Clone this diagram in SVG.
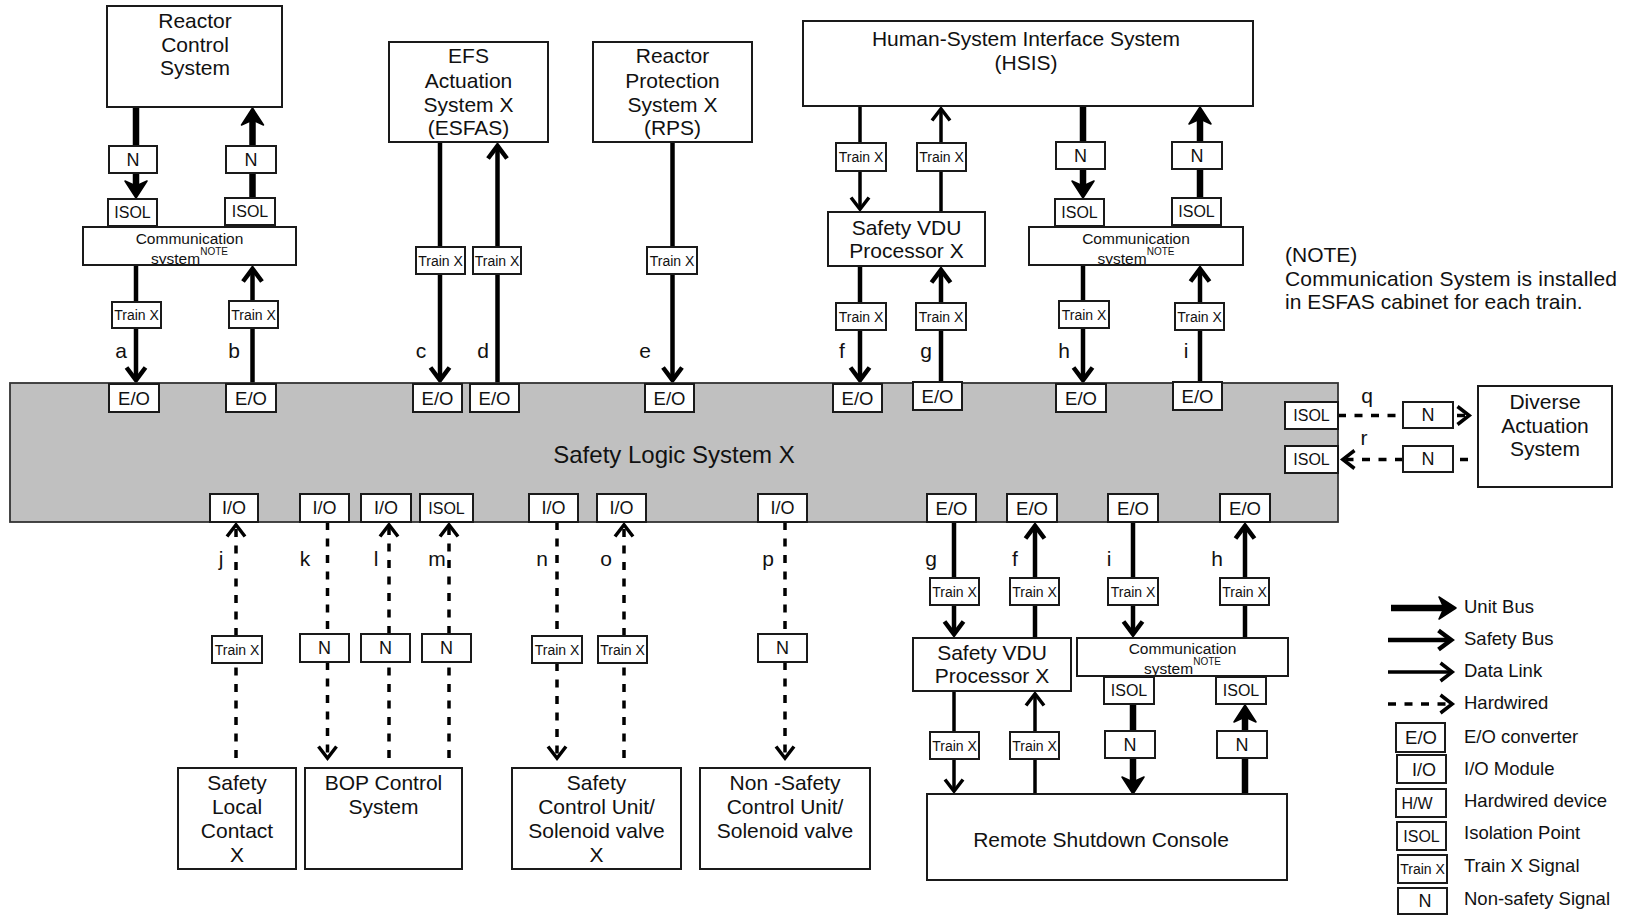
<svg xmlns="http://www.w3.org/2000/svg" width="1629" height="917" viewBox="0 0 1629 917">
  <style>
    .box { fill: #fff; stroke: #1a1a1a; stroke-width: 2; }
    .sls { fill: #c0c0c0; stroke: #333; stroke-width: 1.8; }
    .t { font-family: "Liberation Sans", Arial, Helvetica, sans-serif; fill: #111; text-anchor: middle; }
    .big { font-size: 21px; }
    .title { font-size: 24px; }
    .eo { font-size: 18.5px; }
    .n { font-size: 18px; }
    .isol { font-size: 16px; }
    .tx { font-size: 14px; }
    .comm { font-size: 15.5px; }
    .sup { font-size: 10px; }
    .note { font-size: 21px; text-anchor: start; }
    .leg { font-size: 18.5px; text-anchor: start; }
    .unit, .safe, .data, .hw { fill: none; stroke: #000; }
    .unit { stroke-width: 6.5; }
    .safe { stroke-width: 4.5; }
    .data { stroke-width: 3.5; }
    .hw { stroke-width: 3.5; stroke-dasharray: 8 8.5; }
  </style>
  <defs>
    <!-- filled head for unit bus -->
    <marker id="m-unit" markerUnits="userSpaceOnUse" viewBox="-26 -15 30 30" markerWidth="30" markerHeight="30" refX="-8" refY="0" orient="auto" overflow="visible">
      <path d="M-1 0 L-18 -11 L-13 0 L-18 11 Z" fill="#000" stroke="#000" stroke-width="1.5" stroke-linejoin="round"/>
    </marker>
    <!-- open chevron for safety bus -->
    <marker id="m-safe" markerUnits="userSpaceOnUse" viewBox="-24 -14 28 28" markerWidth="28" markerHeight="28" refX="-4" refY="0" orient="auto" overflow="visible">
      <path d="M-16.5 -9.5 L-3.8 0 L-16.5 9.5" fill="none" stroke="#000" stroke-width="4.5"/>
    </marker>
    <!-- open chevron for data link / hardwired -->
    <marker id="m-data" markerUnits="userSpaceOnUse" viewBox="-22 -13 26 26" markerWidth="26" markerHeight="26" refX="-3" refY="0" orient="auto" overflow="visible">
      <path d="M-14.5 -9 L-2.8 0 L-14.5 9" fill="none" stroke="#000" stroke-width="3.5"/>
    </marker>
    <clipPath id="clip-comm-l" clipPathUnits="userSpaceOnUse"><rect x="84" y="228" width="211" height="36"/></clipPath>
    <clipPath id="clip-comm-r" clipPathUnits="userSpaceOnUse"><rect x="1030" y="228" width="212" height="36"/></clipPath>
    <clipPath id="clip-comm-b" clipPathUnits="userSpaceOnUse"><rect x="1078" y="639" width="209" height="36"/></clipPath>
  </defs>

  <rect width="1629" height="917" fill="#fff"/>

  <!-- ===== connectors ===== -->
  <g id="connectors">
    <!-- a -->
    <line class="unit" x1="136" y1="107" x2="136" y2="146"/>
    <line class="unit" x1="136" y1="173" x2="136" y2="191" marker-end="url(#m-unit)"/>
    <line class="safe" x1="136" y1="265" x2="136" y2="302"/>
    <line class="safe" x1="136" y1="328" x2="136" y2="380" marker-end="url(#m-safe)"/>
    <!-- b -->
    <line class="safe" x1="252.5" y1="384" x2="252.5" y2="328"/>
    <line class="safe" x1="252.5" y1="301" x2="252.5" y2="269" marker-end="url(#m-safe)"/>
    <line class="unit" x1="252.5" y1="198" x2="252.5" y2="173"/>
    <line class="unit" x1="252.5" y1="146" x2="252.5" y2="115" marker-end="url(#m-unit)"/>
    <!-- c -->
    <line class="safe" x1="440" y1="142" x2="440" y2="247"/>
    <line class="safe" x1="440" y1="274" x2="440" y2="380" marker-end="url(#m-safe)"/>
    <!-- d -->
    <line class="safe" x1="497.5" y1="384" x2="497.5" y2="274"/>
    <line class="safe" x1="497.5" y1="247" x2="497.5" y2="146" marker-end="url(#m-safe)"/>
    <!-- e -->
    <line class="safe" x1="672.5" y1="142" x2="672.5" y2="247"/>
    <line class="safe" x1="672.5" y1="274" x2="672.5" y2="380" marker-end="url(#m-safe)"/>
    <!-- f (upper) -->
    <line class="data" x1="860" y1="106" x2="860" y2="143"/>
    <line class="data" x1="860" y1="171" x2="860" y2="209" marker-end="url(#m-data)"/>
    <line class="safe" x1="860" y1="266" x2="860" y2="303"/>
    <line class="safe" x1="860" y1="330" x2="860" y2="380" marker-end="url(#m-safe)"/>
    <!-- g (upper) -->
    <line class="safe" x1="941" y1="382" x2="941" y2="330"/>
    <line class="safe" x1="941" y1="303" x2="941" y2="270" marker-end="url(#m-safe)"/>
    <line class="data" x1="941" y1="212" x2="941" y2="171"/>
    <line class="data" x1="941" y1="143" x2="941" y2="109" marker-end="url(#m-data)"/>
    <!-- h (upper) -->
    <line class="unit" x1="1083" y1="106" x2="1083" y2="142"/>
    <line class="unit" x1="1083" y1="169" x2="1083" y2="191" marker-end="url(#m-unit)"/>
    <line class="safe" x1="1083" y1="265" x2="1083" y2="301"/>
    <line class="safe" x1="1083" y1="328" x2="1083" y2="380" marker-end="url(#m-safe)"/>
    <!-- i (upper) -->
    <line class="safe" x1="1200" y1="382" x2="1200" y2="330"/>
    <line class="safe" x1="1200" y1="303" x2="1200" y2="269" marker-end="url(#m-safe)"/>
    <line class="unit" x1="1200" y1="198" x2="1200" y2="169"/>
    <line class="unit" x1="1200" y1="142" x2="1200" y2="114" marker-end="url(#m-unit)"/>
    <!-- q / r -->
    <line class="hw" x1="1338" y1="415.5" x2="1403" y2="415.5"/>
    <line class="hw" x1="1457" y1="415.5" x2="1469" y2="415.5" marker-end="url(#m-data)"/>
    <line class="hw" x1="1468" y1="459.5" x2="1453" y2="459.5"/>
    <line class="hw" x1="1403" y1="459.5" x2="1343" y2="459.5" marker-end="url(#m-data)"/>
    <!-- j..p hardwired -->
    <line class="hw" x1="236" y1="758" x2="236" y2="663"/>
    <line class="hw" x1="236" y1="636" x2="236" y2="525" marker-end="url(#m-data)"/>
    <line class="hw" x1="327.5" y1="522" x2="327.5" y2="634"/>
    <line class="hw" x1="327.5" y1="662" x2="327.5" y2="758" marker-end="url(#m-data)"/>
    <line class="hw" x1="389" y1="758" x2="389" y2="662"/>
    <line class="hw" x1="389" y1="634" x2="389" y2="525" marker-end="url(#m-data)"/>
    <line class="hw" x1="449" y1="758" x2="449" y2="662"/>
    <line class="hw" x1="449" y1="634" x2="449" y2="525" marker-end="url(#m-data)"/>
    <line class="hw" x1="557" y1="522" x2="557" y2="636"/>
    <line class="hw" x1="557" y1="663" x2="557" y2="758" marker-end="url(#m-data)"/>
    <line class="hw" x1="624" y1="758" x2="624" y2="663"/>
    <line class="hw" x1="624" y1="636" x2="624" y2="525" marker-end="url(#m-data)"/>
    <line class="hw" x1="785" y1="522" x2="785" y2="634"/>
    <line class="hw" x1="785" y1="662" x2="785" y2="758" marker-end="url(#m-data)"/>
    <!-- g (lower) -->
    <line class="safe" x1="954" y1="522" x2="954" y2="578"/>
    <line class="safe" x1="954" y1="605" x2="954" y2="634" marker-end="url(#m-safe)"/>
    <line class="data" x1="954" y1="691" x2="954" y2="732"/>
    <line class="data" x1="954" y1="759" x2="954" y2="791" marker-end="url(#m-data)"/>
    <!-- f (lower) -->
    <line class="data" x1="1035" y1="794" x2="1035" y2="759"/>
    <line class="data" x1="1035" y1="732" x2="1035" y2="694" marker-end="url(#m-data)"/>
    <line class="safe" x1="1035" y1="638" x2="1035" y2="605"/>
    <line class="safe" x1="1035" y1="578" x2="1035" y2="526" marker-end="url(#m-safe)"/>
    <!-- i (lower) -->
    <line class="safe" x1="1133" y1="522" x2="1133" y2="578"/>
    <line class="safe" x1="1133" y1="605" x2="1133" y2="634" marker-end="url(#m-safe)"/>
    <line class="unit" x1="1133" y1="704" x2="1133" y2="731"/>
    <line class="unit" x1="1133" y1="758" x2="1133" y2="787" marker-end="url(#m-unit)"/>
    <!-- h (lower) -->
    <line class="unit" x1="1245" y1="794" x2="1245" y2="758"/>
    <line class="unit" x1="1245" y1="731" x2="1245" y2="712" marker-end="url(#m-unit)"/>
    <line class="safe" x1="1245" y1="638" x2="1245" y2="605"/>
    <line class="safe" x1="1245" y1="578" x2="1245" y2="526" marker-end="url(#m-safe)"/>
  </g>

  <!-- signal letters -->
  <g id="signal-labels" class="t big">
    <text x="121" y="358">a</text>
    <text x="234" y="358">b</text>
    <text x="421" y="358">c</text>
    <text x="483" y="358">d</text>
    <text x="645" y="358">e</text>
    <text x="842" y="358">f</text>
    <text x="926" y="358">g</text>
    <text x="1064" y="358">h</text>
    <text x="1186" y="358">i</text>
    <text x="1367" y="403">q</text>
    <text x="1364" y="445">r</text>
    <text x="221" y="566">j</text>
    <text x="305" y="566">k</text>
    <text x="376" y="566">l</text>
    <text x="437" y="566">m</text>
    <text x="542" y="566">n</text>
    <text x="606" y="566">o</text>
    <text x="768" y="566">p</text>
    <text x="931" y="566">g</text>
    <text x="1015" y="566">f</text>
    <text x="1109" y="566">i</text>
    <text x="1217" y="566">h</text>
  </g>

  <!-- ===== main systems ===== -->
  <g id="reactor-control">
    <rect class="box" x="107" y="6" width="175" height="101"/>
    <text class="t big" x="195" y="28">Reactor</text>
    <text class="t big" x="195" y="51.5">Control</text>
    <text class="t big" x="195" y="74.5">System</text>
  </g>
  <g id="esfas">
    <rect class="box" x="389" y="42" width="159" height="100"/>
    <text class="t big" x="468.5" y="63">EFS</text>
    <text class="t big" x="468.5" y="87.5">Actuation</text>
    <text class="t big" x="468.5" y="111.5">System X</text>
    <text class="t big" x="468.5" y="135">(ESFAS)</text>
  </g>
  <g id="rps">
    <rect class="box" x="593" y="42" width="159" height="100"/>
    <text class="t big" x="672.5" y="63">Reactor</text>
    <text class="t big" x="672.5" y="87.5">Protection</text>
    <text class="t big" x="672.5" y="111.5">System X</text>
    <text class="t big" x="672.5" y="135">(RPS)</text>
  </g>
  <g id="hsis">
    <rect class="box" x="803" y="21" width="450" height="85"/>
    <text class="t big" x="1026" y="46">Human-System Interface System</text>
    <text class="t big" x="1026" y="69.5">(HSIS)</text>
  </g>
  <g id="vdu-upper">
    <rect class="box" x="828" y="212" width="157" height="54"/>
    <text class="t big" x="906.5" y="235">Safety VDU</text>
    <text class="t big" x="906.5" y="258">Processor X</text>
  </g>
  <g id="comm-left">
    <rect class="box" x="83" y="227" width="213" height="38"/>
    <g clip-path="url(#clip-comm-l)">
      <text class="t comm" x="189.5" y="243.5">Communication</text>
      <text class="t comm" x="189.5" y="263.5">system<tspan class="sup" dy="-9">NOTE</tspan></text>
    </g>
  </g>
  <g id="comm-right">
    <rect class="box" x="1029" y="227" width="214" height="38"/>
    <g clip-path="url(#clip-comm-r)">
      <text class="t comm" x="1136" y="243.5">Communication</text>
      <text class="t comm" x="1136" y="263.5">system<tspan class="sup" dy="-9">NOTE</tspan></text>
    </g>
  </g>
  <g id="note">
    <text class="t note" x="1285" y="262">(NOTE)</text>
    <text class="t note" x="1285" y="286" textLength="332">Communication System is installed</text>
    <text class="t note" x="1285" y="309">in ESFAS cabinet for each train.</text>
  </g>
  <g id="safety-logic">
    <rect class="sls" x="10" y="383" width="1328" height="139"/>
    <text class="t title" x="674" y="463">Safety Logic System X</text>
  </g>
  <g id="diverse-actuation">
    <rect class="box" x="1478" y="386" width="134" height="101"/>
    <text class="t big" x="1545" y="409">Diverse</text>
    <text class="t big" x="1545" y="433">Actuation</text>
    <text class="t big" x="1545" y="456">System</text>
  </g>
  <g id="safety-local-contact">
    <rect class="box" x="178" y="768" width="118" height="101"/>
    <text class="t big" x="237" y="790">Safety</text>
    <text class="t big" x="237" y="813.5">Local</text>
    <text class="t big" x="237" y="837.5">Contact</text>
    <text class="t big" x="237" y="861.5">X</text>
  </g>
  <g id="bop-control">
    <rect class="box" x="305" y="768" width="157" height="101"/>
    <text class="t big" x="383.5" y="790">BOP Control</text>
    <text class="t big" x="383.5" y="813.5">System</text>
  </g>
  <g id="safety-control-unit">
    <rect class="box" x="512" y="768" width="169" height="101"/>
    <text class="t big" x="596.5" y="790">Safety</text>
    <text class="t big" x="596.5" y="813.5">Control Unit/</text>
    <text class="t big" x="596.5" y="837.5">Solenoid valve</text>
    <text class="t big" x="596.5" y="861.5">X</text>
  </g>
  <g id="non-safety-control-unit">
    <rect class="box" x="700" y="768" width="170" height="101"/>
    <text class="t big" x="785" y="790">Non -Safety</text>
    <text class="t big" x="785" y="813.5">Control Unit/</text>
    <text class="t big" x="785" y="837.5">Solenoid valve</text>
  </g>
  <g id="vdu-lower">
    <rect class="box" x="913" y="638" width="158" height="53"/>
    <text class="t big" x="992" y="660">Safety VDU</text>
    <text class="t big" x="992" y="683">Processor X</text>
  </g>
  <g id="comm-lower">
    <rect class="box" x="1077" y="638" width="211" height="38"/>
    <g clip-path="url(#clip-comm-b)">
      <text class="t comm" x="1182.5" y="653.5">Communication</text>
      <text class="t comm" x="1182.5" y="673.5">system<tspan class="sup" dy="-9">NOTE</tspan></text>
    </g>
  </g>
  <g id="remote-shutdown">
    <rect class="box" x="927" y="794" width="360" height="86"/>
    <text class="t big" x="1101" y="847">Remote Shutdown Console</text>
  </g>

  <!-- ===== signal points, upper side ===== -->
  <g id="n-a"><rect class="box" x="109" y="146" width="48" height="27"/><text class="t n" x="133" y="165.9">N</text></g>
  <g id="isol-a"><rect class="box" x="108" y="199" width="49" height="27"/><text class="t isol" x="132.5" y="218.2">ISOL</text></g>
  <g id="train-a"><rect class="box" x="112" y="302" width="49" height="26"/><text class="t tx" x="136.5" y="320">Train X</text></g>
  <g id="eo-a"><rect class="box" x="109" y="384" width="50" height="28"/><text class="t eo" x="134" y="404.6">E/O</text></g>

  <g id="n-b"><rect class="box" x="226" y="146" width="50" height="27"/><text class="t n" x="251" y="165.9">N</text></g>
  <g id="isol-b"><rect class="box" x="225" y="198" width="50" height="27"/><text class="t isol" x="250" y="217.2">ISOL</text></g>
  <g id="train-b"><rect class="box" x="229" y="301" width="49" height="27"/><text class="t tx" x="253.5" y="319.5">Train X</text></g>
  <g id="eo-b"><rect class="box" x="226" y="384" width="50" height="28"/><text class="t eo" x="251" y="404.6">E/O</text></g>

  <g id="train-c"><rect class="box" x="416" y="247" width="49" height="27"/><text class="t tx" x="440.5" y="265.5">Train X</text></g>
  <g id="eo-c"><rect class="box" x="413" y="384" width="49" height="28"/><text class="t eo" x="437.5" y="404.6">E/O</text></g>
  <g id="train-d"><rect class="box" x="473" y="247" width="48" height="27"/><text class="t tx" x="497" y="265.5">Train X</text></g>
  <g id="eo-d"><rect class="box" x="470" y="384" width="49" height="28"/><text class="t eo" x="494.5" y="404.6">E/O</text></g>
  <g id="train-e"><rect class="box" x="647" y="247" width="50" height="27"/><text class="t tx" x="672" y="265.5">Train X</text></g>
  <g id="eo-e"><rect class="box" x="645" y="384" width="49" height="28"/><text class="t eo" x="669.5" y="404.6">E/O</text></g>

  <g id="train-f-hsis"><rect class="box" x="836" y="143" width="50" height="28"/><text class="t tx" x="861" y="162">Train X</text></g>
  <g id="train-g-hsis"><rect class="box" x="917" y="143" width="49" height="28"/><text class="t tx" x="941.5" y="162">Train X</text></g>
  <g id="train-f-upper"><rect class="box" x="836" y="303" width="50" height="27"/><text class="t tx" x="861" y="321.5">Train X</text></g>
  <g id="train-g-upper"><rect class="box" x="916" y="303" width="50" height="27"/><text class="t tx" x="941" y="321.5">Train X</text></g>
  <g id="eo-f"><rect class="box" x="833" y="384" width="49" height="28"/><text class="t eo" x="857.5" y="404.6">E/O</text></g>
  <g id="eo-g"><rect class="box" x="913" y="382" width="49" height="28"/><text class="t eo" x="937.5" y="402.6">E/O</text></g>

  <g id="n-h"><rect class="box" x="1056" y="142" width="49" height="27"/><text class="t n" x="1080.5" y="161.9">N</text></g>
  <g id="isol-h"><rect class="box" x="1055" y="199" width="49" height="27"/><text class="t isol" x="1079.5" y="218.2">ISOL</text></g>
  <g id="train-h"><rect class="box" x="1059" y="301" width="50" height="27"/><text class="t tx" x="1084" y="319.5">Train X</text></g>
  <g id="eo-h"><rect class="box" x="1056" y="384" width="50" height="28"/><text class="t eo" x="1081" y="404.6">E/O</text></g>
  <g id="n-i"><rect class="box" x="1172" y="142" width="50" height="27"/><text class="t n" x="1197" y="161.9">N</text></g>
  <g id="isol-i"><rect class="box" x="1172" y="198" width="49" height="27"/><text class="t isol" x="1196.5" y="217.2">ISOL</text></g>
  <g id="train-i"><rect class="box" x="1175" y="303" width="49" height="27"/><text class="t tx" x="1199.5" y="321.5">Train X</text></g>
  <g id="eo-i"><rect class="box" x="1173" y="382" width="49" height="28"/><text class="t eo" x="1197.5" y="402.6">E/O</text></g>

  <g id="isol-q"><rect class="box" x="1285" y="402" width="53" height="27"/><text class="t isol" x="1311.5" y="421.2">ISOL</text></g>
  <g id="isol-r"><rect class="box" x="1285" y="446" width="53" height="27"/><text class="t isol" x="1311.5" y="465.2">ISOL</text></g>
  <g id="n-q"><rect class="box" x="1403" y="402" width="50" height="26"/><text class="t n" x="1428" y="421.4">N</text></g>
  <g id="n-r"><rect class="box" x="1403" y="446" width="50" height="26"/><text class="t n" x="1428" y="465.4">N</text></g>

  <!-- ===== signal points, lower side ===== -->
  <g id="io-j"><rect class="box" x="210" y="494" width="48" height="28"/><text class="t n" x="234" y="514.4">I/O</text></g>
  <g id="io-k"><rect class="box" x="300" y="494" width="49" height="28"/><text class="t n" x="324.5" y="514.4">I/O</text></g>
  <g id="io-l"><rect class="box" x="361" y="494" width="50" height="28"/><text class="t n" x="386" y="514.4">I/O</text></g>
  <g id="isol-m"><rect class="box" x="420" y="494" width="53" height="28"/><text class="t isol" x="446.5" y="513.7">ISOL</text></g>
  <g id="io-n"><rect class="box" x="529" y="494" width="49" height="28"/><text class="t n" x="553.5" y="514.4">I/O</text></g>
  <g id="io-o"><rect class="box" x="597" y="494" width="49" height="28"/><text class="t n" x="621.5" y="514.4">I/O</text></g>
  <g id="io-p"><rect class="box" x="758" y="494" width="49" height="28"/><text class="t n" x="782.5" y="514.4">I/O</text></g>
  <g id="eo-g-lower"><rect class="box" x="927" y="494" width="49" height="28"/><text class="t eo" x="951.5" y="514.6">E/O</text></g>
  <g id="eo-f-lower"><rect class="box" x="1007" y="494" width="50" height="28"/><text class="t eo" x="1032" y="514.6">E/O</text></g>
  <g id="eo-i-lower"><rect class="box" x="1108" y="494" width="50" height="28"/><text class="t eo" x="1133" y="514.6">E/O</text></g>
  <g id="eo-h-lower"><rect class="box" x="1220" y="494" width="50" height="28"/><text class="t eo" x="1245" y="514.6">E/O</text></g>

  <g id="train-j"><rect class="box" x="212" y="636" width="50" height="27"/><text class="t tx" x="237" y="654.5">Train X</text></g>
  <g id="n-k"><rect class="box" x="300" y="634" width="49" height="28"/><text class="t n" x="324.5" y="654.4">N</text></g>
  <g id="n-l"><rect class="box" x="361" y="634" width="49" height="28"/><text class="t n" x="385.5" y="654.4">N</text></g>
  <g id="n-m"><rect class="box" x="422" y="634" width="49" height="28"/><text class="t n" x="446.5" y="654.4">N</text></g>
  <g id="train-n"><rect class="box" x="532" y="636" width="50" height="27"/><text class="t tx" x="557" y="654.5">Train X</text></g>
  <g id="train-o"><rect class="box" x="598" y="636" width="49" height="27"/><text class="t tx" x="622.5" y="654.5">Train X</text></g>
  <g id="n-p"><rect class="box" x="758" y="634" width="49" height="28"/><text class="t n" x="782.5" y="654.4">N</text></g>

  <g id="train-g-lower"><rect class="box" x="930" y="578" width="49" height="27"/><text class="t tx" x="954.5" y="596.5">Train X</text></g>
  <g id="train-f-lower"><rect class="box" x="1010" y="578" width="49" height="27"/><text class="t tx" x="1034.5" y="596.5">Train X</text></g>
  <g id="train-i-lower"><rect class="box" x="1108" y="578" width="50" height="27"/><text class="t tx" x="1133" y="596.5">Train X</text></g>
  <g id="train-h-lower"><rect class="box" x="1220" y="578" width="49" height="27"/><text class="t tx" x="1244.5" y="596.5">Train X</text></g>
  <g id="isol-i-lower"><rect class="box" x="1104" y="677" width="50" height="27"/><text class="t isol" x="1129" y="696.2">ISOL</text></g>
  <g id="isol-h-lower"><rect class="box" x="1216" y="677" width="50" height="27"/><text class="t isol" x="1241" y="696.2">ISOL</text></g>
  <g id="n-i-lower"><rect class="box" x="1105" y="731" width="50" height="27"/><text class="t n" x="1130" y="750.9">N</text></g>
  <g id="n-h-lower"><rect class="box" x="1217" y="731" width="50" height="27"/><text class="t n" x="1242" y="750.9">N</text></g>
  <g id="train-g-rsc"><rect class="box" x="930" y="732" width="49" height="27"/><text class="t tx" x="954.5" y="750.5">Train X</text></g>
  <g id="train-f-rsc"><rect class="box" x="1010" y="732" width="49" height="27"/><text class="t tx" x="1034.5" y="750.5">Train X</text></g>

  <!-- ===== legend ===== -->
  <g id="legend">
    <line class="unit" x1="1391" y1="608" x2="1449" y2="608" marker-end="url(#m-unit)"/>
    <line class="safe" x1="1388" y1="640" x2="1451" y2="640" marker-end="url(#m-safe)"/>
    <line class="data" x1="1388" y1="672" x2="1452" y2="672" marker-end="url(#m-data)"/>
    <line class="hw" x1="1388" y1="704" x2="1452" y2="704" marker-end="url(#m-data)"/>
    <rect class="box" x="1396" y="723" width="49" height="29"/><text class="t eo" x="1421" y="744">E/O</text>
    <rect class="box" x="1397" y="755" width="49" height="28"/><text class="t n" x="1424" y="775.5">I/O</text>
    <rect class="box" x="1396" y="789" width="50" height="28"/><text class="t isol" x="1417" y="809">H/W</text>
    <rect class="box" x="1397" y="822" width="49" height="28"/><text class="t isol" x="1421.5" y="841.5">ISOL</text>
    <rect class="box" x="1398" y="855" width="49" height="28"/><text class="t tx" x="1422.5" y="874">Train X</text>
    <rect class="box" x="1398" y="888" width="49" height="26"/><text class="t n" x="1425" y="907.4">N</text>
    <text class="t leg" x="1464" y="613">Unit Bus</text>
    <text class="t leg" x="1464" y="645">Safety Bus</text>
    <text class="t leg" x="1464" y="677">Data Link</text>
    <text class="t leg" x="1464" y="709">Hardwired</text>
    <text class="t leg" x="1464" y="743">E/O converter</text>
    <text class="t leg" x="1464" y="775">I/O Module</text>
    <text class="t leg" x="1464" y="807">Hardwired device</text>
    <text class="t leg" x="1464" y="839">Isolation Point</text>
    <text class="t leg" x="1464" y="872">Train X Signal</text>
    <text class="t leg" x="1464" y="905">Non-safety Signal</text>
  </g>
</svg>
